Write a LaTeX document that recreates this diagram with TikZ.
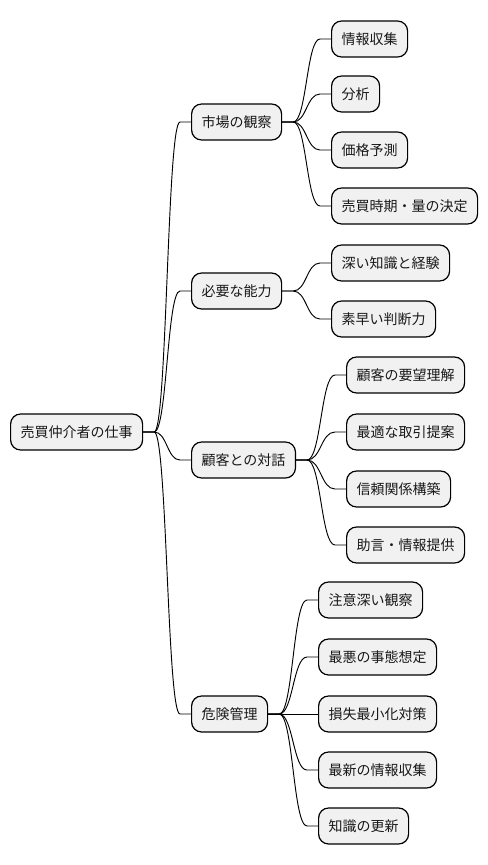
\documentclass[tikz,border=0pt]{standalone}
\usepackage{fontspec}
\newfontfamily\cjk{Noto Sans CJK JP}
\usetikzlibrary{calc}
\definecolor{boxfill}{HTML}{F1F1F1}
\tikzset{
  mmbox/.style={draw=black, line width=0.9pt, fill=boxfill, rounded corners=7.5pt,
    anchor=west, inner xsep=7.5pt, inner ysep=0pt, minimum height=27pt,
    font=\cjk\fontsize{10.5pt}{12pt}\selectfont, text=black!90},
  conn/.style={draw=black, line width=0.7pt},
}
\newcommand\mmconn[2]{%
  \path (#1.east) ++(11,0) coordinate (jj);
  \path (#2.west) ++(-11,0) coordinate (ee);
  \coordinate (mm) at ($(jj)!0.5!(ee)$);
  \draw[conn] (#1.east) -- (jj) .. controls (mm |- jj) and (mm |- ee) .. (ee) -- (#2.west);
}
\begin{document}
\begin{tikzpicture}[x=0.75pt,y=-0.75pt]
\useasboundingbox (0,0) rectangle (488,865);
\node[mmbox] (root) at (10,432) {売買仲介者の仕事};
\node[mmbox] (m1) at (191,122) {市場の観察};
\node[mmbox] (m1a) at (331,39) {情報収集};
\node[mmbox] (m1b) at (331,94) {分析};
\node[mmbox] (m1c) at (331,150) {価格予測};
\node[mmbox] (m1d) at (331,206) {売買時期・量の決定};
\node[mmbox] (m2) at (191,291) {必要な能力};
\node[mmbox] (m2a) at (331,263) {深い知識と経験};
\node[mmbox] (m2b) at (331,319) {素早い判断力};
\node[mmbox] (m3) at (191,460) {顧客との対話};
\node[mmbox] (m3a) at (346,375) {顧客の要望理解};
\node[mmbox] (m3b) at (346,432) {最適な取引提案};
\node[mmbox] (m3c) at (346,489) {信頼関係構築};
\node[mmbox] (m3d) at (346,545) {助言・情報提供};
\node[mmbox] (m4) at (191,714) {危険管理};
\node[mmbox] (m4a) at (318,600) {注意深い観察};
\node[mmbox] (m4b) at (318,657) {最悪の事態想定};
\node[mmbox] (m4c) at (318,714) {損失最小化対策};
\node[mmbox] (m4d) at (318,770) {最新の情報収集};
\node[mmbox] (m4e) at (318,826) {知識の更新};
\mmconn{root}{m1}
\mmconn{root}{m2}
\mmconn{root}{m3}
\mmconn{root}{m4}
\mmconn{m1}{m1a}
\mmconn{m1}{m1b}
\mmconn{m1}{m1c}
\mmconn{m1}{m1d}
\mmconn{m2}{m2a}
\mmconn{m2}{m2b}
\mmconn{m3}{m3a}
\mmconn{m3}{m3b}
\mmconn{m3}{m3c}
\mmconn{m3}{m3d}
\mmconn{m4}{m4a}
\mmconn{m4}{m4b}
\mmconn{m4}{m4c}
\mmconn{m4}{m4d}
\mmconn{m4}{m4e}
\end{tikzpicture}
\end{document}
